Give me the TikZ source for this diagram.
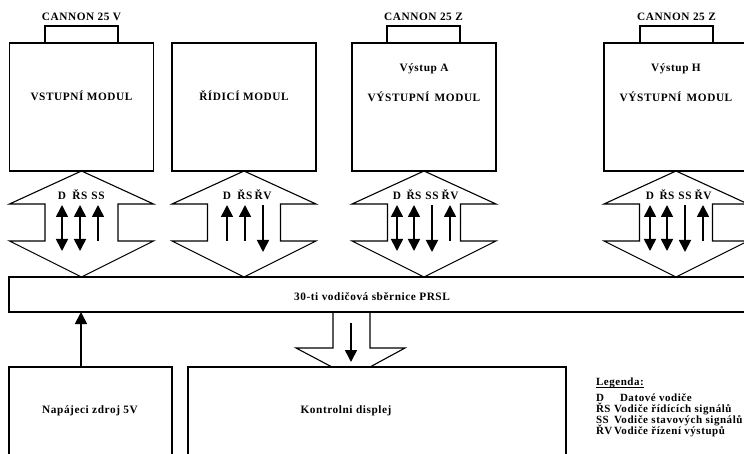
\documentclass[tikz,border=0pt]{standalone}
\usepackage{fontspec}
\setmainfont{Liberation Serif}[LetterSpace=5]
\usetikzlibrary{arrows.meta,calc}
\begin{document}
\begin{tikzpicture}[x=1pt,y=-1pt,
  every node/.style={font=\fontsize{11.3}{13}\selectfont\bfseries, inner sep=0pt, outer sep=0pt, text height=7.4pt, text depth=0pt},
  modbox/.style={draw, line width=1.1pt, minimum width=144pt, minimum height=128pt},
  connbox/.style={draw, line width=1.1pt, minimum width=73pt, minimum height=17pt},
  lowbox/.style={draw, line width=1.1pt},
  hexline/.style={draw, line width=1.1pt, line join=miter},
  sig/.style={line width=1.7pt},
  dblarr/.style={sig, {Triangle[width=12pt,length=12pt]}-{Triangle[width=12pt,length=12pt]}},
  onearr/.style={sig, -{Triangle[width=12pt,length=12pt]}},
  leg/.style={anchor=base west, font=\fontsize{11}{13}\selectfont\bfseries, text height=, text depth=}
]
\path[use as bounding box, fill=white] (0,0) rectangle (744,454);
\clip (0,0) rectangle (744,454);

% modules
\node[modbox] (m1) at (81.5,107) {};
\node[modbox] (m2) at (244,107) {};
\node[modbox] (m3) at (424,107) {};
\node[modbox] (m4) at (676,107) {};

% connectors
\node[connbox] (c1) at (81.5,34.5) {};
\node[connbox] (c3) at (423.5,34.5) {};
\node[connbox] (c4) at (676.5,34.5) {};
\node (c1t) at (81.5,17) {CANNON 25 V};
\node (c3t) at (423.5,17) {CANNON 25 Z};
\node (c4t) at (676.5,17) {CANNON 25 Z};

% module texts
\node (t1) at (81.5,97) {VSTUPNÍ MODUL};
\node (t2) at (244,97) {ŘÍDICÍ MODUL};
\node (t3a) at (424,68) {Výstup A};
\node (t3) at (424,98) {VÝSTUPNÍ\, MODUL};
\node (t4a) at (676,68) {Výstup H};
\node (t4) at (676,98) {VÝSTUPNÍ\, MODUL};

% bus
\node[lowbox, minimum width=751pt, minimum height=35pt] (bus) at (384.5,294.5) {};
\node (bust) at (372,297) {30-ti vodičová sběrnice PRSL};

% double hollow arrows between modules and bus
\foreach \m in {m1,m2,m3,m4}{
  \draw[hexline] (\m.south) -- ++(72,33) -- ++(-35.5,0) -- ++(0,37) -- ++(35.5,0)
    -- (bus.north -| \m.south) -- ++(-72,-36) -- ++(35.5,0) -- ++(0,-37) -- ++(-35.5,0) -- cycle;
}

% signal arrows and labels
% module 1
\draw[dblarr] (62,205) -- (62,251);
\draw[dblarr] (80,205) -- (80,251);
\draw[onearr] (98,241) -- (98,205);
\node at (62,196) {D};
\node at (80,196) {ŘS};
\node at (98,196) {SS};
% module 2
\draw[onearr] (227,241) -- (227,205);
\draw[onearr] (245,241) -- (245,205);
\draw[onearr] (263,205) -- (263,252);
\node at (227,196) {D};
\node at (245,196) {ŘS};
\node at (263,196) {ŘV};
% module 3
\draw[dblarr] (397,205) -- (397,251);
\draw[dblarr] (414,205) -- (414,251);
\draw[onearr] (432,205) -- (432,252);
\draw[onearr] (450,241) -- (450,205);
\node at (397,196) {D};
\node at (414,196) {ŘS};
\node at (432,196) {SS};
\node at (450,196) {ŘV};
% module 4
\draw[dblarr] (650,205) -- (650,251);
\draw[dblarr] (667,205) -- (667,251);
\draw[onearr] (685,205) -- (685,252);
\draw[onearr] (703,241) -- (703,205);
\node at (650,196) {D};
\node at (667,196) {ŘS};
\node at (685,196) {SS};
\node at (703,196) {ŘV};

% lower boxes
\node[lowbox, minimum width=163pt, minimum height=120pt] (psu) at (90.5,427) {};
\node (psut) at (90,410) {Napájeci zdroj 5V};
\node[lowbox, minimum width=378pt, minimum height=120pt] (disp) at (377,427) {};
\node (dispt) at (346,410) {Kontrolni displej};

% power arrow
\draw[onearr] (psu.north -| 81,0) -- (bus.south -| 81,0);

% hollow arrow bus -> display
\coordinate (da) at (351.5,312);
\draw[hexline] ($(da)+(-18.5,0)$) -- ++(0,36) -- ++(-37,0) -- ($(disp.north -| da)+(-19.5,0)$);
\draw[hexline] ($(da)+(18.5,0)$) -- ++(0,36) -- ++(35,0) -- ($(disp.north -| da)+(18.5,0)$);
\draw[onearr] (351,323) -- (351,362);

% legend
\node[leg] (lg) at (596,385) {Legenda:};
\draw[line width=0.8pt] ($(lg.base west)+(0,2)$) -- ($(lg.base east)+(0,2)$);
\node[leg] (l1a) at (596,401) {D};
\node[leg] (l1b) at (620,401) {Datové vodiče};
\node[leg] (l2a) at (596,412) {ŘS};
\node[leg] (l2b) at (614,412) {Vodiče řídících signálů};
\node[leg] (l3a) at (596,423) {SS};
\node[leg] (l3b) at (614,423) {Vodiče stavových signálů};
\node[leg] (l4a) at (596,434) {ŘV};
\node[leg] (l4b) at (614,434) {Vodiče řízení výstupů};
\end{tikzpicture}
\end{document}
